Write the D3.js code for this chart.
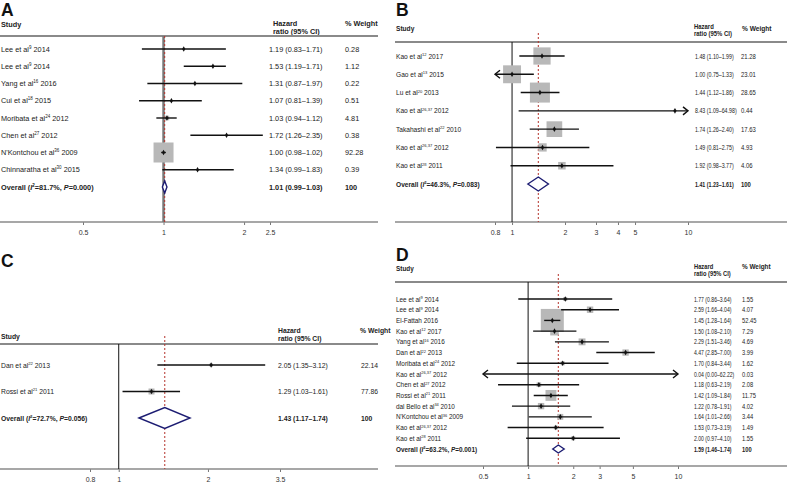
<!DOCTYPE html>
<html>
<head>
<meta charset="utf-8">
<script src="https://cdn.jsdelivr.net/npm/d3@7"></script>
<style>
body { margin: 0; background: #fff; }
text { font-family: "Liberation Sans", Arial, Helvetica, sans-serif; fill: #222; }
</style>
</head>
<body>
<svg id="chart" width="790" height="483"></svg>
<script>

// ---- panel A data
var authorsA = ["Lee et al", "Lee et al", "Yang et al", "Cui et al", "Moribata et al", "Chen et al", "N'Kontchou et al", "Chinnaratha et al"]
var refsA = ["9", "9", "16", "18", "24", "27", "36", "30"]
var yearsA = ["2014", "2014", "2016", "2015", "2012", "2012", "2009", "2015"]
var hrA = [1.19, 1.53, 1.31, 1.07, 1.03, 1.72, 1.00, 1.34]
var loA = [0.83, 1.19, 0.87, 0.81, 0.94, 1.26, 0.98, 0.99]
var hiA = [1.71, 1.71, 1.97, 1.39, 1.12, 2.35, 1.02, 1.83]
var wtA = [0.28, 1.12, 0.22, 0.51, 4.81, 0.38, 92.28, 0.39]
var overallA = [1.01, 0.99, 1.03]
var hetA = ["81.7%", "0.000"]
var ticksA = [0.5, 1, 2, 2.5]

// ---- panel B data
var authorsB = ["Kao et al", "Gao et al", "Lu et al", "Kao et al", "Takahashi et al", "Kao et al", "Kao et al"]
var refsB = ["12", "13", "20", "26,37", "22", "26,37", "28"]
var yearsB = ["2017", "2015", "2013", "2012", "2010", "2012", "2011"]
var hrB = [1.48, 1.00, 1.44, 8.43, 1.74, 1.49, 1.92]
var loB = [1.10, 0.75, 1.12, 1.09, 1.26, 0.81, 0.98]
var hiB = [1.99, 1.33, 1.86, 64.98, 2.40, 2.75, 3.77]
var wtB = [21.28, 23.01, 28.65, 0.44, 17.63, 4.93, 4.06]
var overallB = [1.41, 1.23, 1.61]
var hetB = ["46.3%", "0.083"]
var ticksB = [0.8, 1, 2, 3, 4, 5, 10]

// ---- panel C data
var authorsC = ["Dan et al", "Rossi et al"]
var refsC = ["22", "21"]
var yearsC = ["2013", "2011"]
var hrC = [2.05, 1.29]
var loC = [1.35, 1.03]
var hiC = [3.12, 1.61]
var wtC = [22.14, 77.86]
var overallC = [1.43, 1.17, 1.74]
var hetC = ["72.7%", "0.056"]
var ticksC = [0.8, 1, 2, 3.5]

// ---- panel D data
var authorsD = ["Lee et al", "Lee et al", "El-Fattah", "Kao et al", "Yang et al", "Dan et al", "Moribata et al", "Kao et al", "Chen et al", "Rossi et al", "dal Bello et al", "N'Kontchou et al", "Kao et al", "Kao et al"]
var refsD = ["9", "9", "", "12", "16", "22", "24", "26,37", "27", "21", "34", "36", "26,37", "28"]
var yearsD = ["2014", "2014", "2016", "2017", "2016", "2013", "2012", "2012", "2012", "2011", "2010", "2009", "2012", "2011"]
var hrD = [1.77, 2.59, 1.45, 1.50, 2.29, 4.47, 1.70, 0.04, 1.18, 1.42, 1.22, 1.64, 1.53, 2.00]
var loD = [0.86, 1.66, 1.28, 1.08, 1.51, 2.85, 0.84, 0.00, 0.63, 1.09, 0.78, 1.01, 0.73, 0.97]
var hiD = [3.64, 4.04, 1.64, 2.10, 3.46, 7.00, 3.44, 62.22, 2.19, 1.84, 1.91, 2.66, 3.19, 4.10]
var wtD = [1.55, 4.07, 52.45, 7.29, 4.69, 3.99, 1.62, 0.03, 2.08, 11.75, 4.02, 3.44, 1.49, 1.55]
var overallD = [1.59, 1.46, 1.74]
var hetD = ["63.2%", "0.001"]
var ticksD = [0.5, 1, 2, 3, 5, 10]

var svg = d3.select("#chart")
var f2 = d3.format(".2f")

// text squeezed horizontally by sx (some columns of the original are narrower)
function colText(g, x, y, str, fs, sx, bold){
    return g.append("text")
        .attr("transform", "translate(" + x + "," + y + ") scale(" + sx + ",1)")
        .style("font-size", fs + "px")
        .style("font-weight", bold ? "bold" : "normal")
        .text(str)
}

function drawPanel(p){
    var g = svg.append("g")
    var x = d3.scaleLog().domain(p.domain).range(p.range)
    var n = p.authors.length
    var y = d3.scaleLinear().domain([0, n]).range([p.firstY, p.overallY])
    var wmax = d3.max(p.wt)
    var fs = p.fs, sup = p.fs * 0.62, up = p.fs * 0.38

    // letter
    g.append("text").attr("x", p.left + 1).attr("y", p.letterY)
        .text(p.letter).style("font-size", "17.5px").style("font-weight", "bold").style("fill", "#111")

    // headers
    colText(g, p.left + 1, p.studyY, "Study", fs, 1, true)
    colText(g, p.hrHeadX, p.hazY, "Hazard", fs, p.headSx, true)
    colText(g, p.hrHeadX, p.hazY + p.hazGap, "ratio (95% CI)", fs, p.headSx, true)
    colText(g, p.wtHeadX, p.wtHeadY, "% Weight", fs, 1, true)

    g.append("line").attr("x1", p.left).attr("x2", p.right)
        .attr("y1", p.headY).attr("y2", p.headY)
        .attr("stroke", "#8a8a8a").attr("stroke-width", 2)

    // axis
    var axis = d3.axisBottom(x).tickValues(p.ticks).tickSize(3).tickFormat(d => String(d))
    var ax = g.append("g").attr("transform", "translate(0," + p.axisY + ")").call(axis)
    ax.select(".domain").remove()
    ax.selectAll(".tick line").attr("stroke", "#777")
    ax.selectAll(".tick text").attr("y", 8).style("font-size", "7px")
        .style("font-family", "Liberation Sans, Arial, sans-serif").style("fill", "#333")
    g.append("line").attr("x1", p.left).attr("x2", p.right)
        .attr("y1", p.axisY).attr("y2", p.axisY)
        .attr("stroke", "#8a8a8a").attr("stroke-width", 1.5)

    // null line
    g.append("line").attr("x1", x(1)).attr("x2", x(1))
        .attr("y1", p.headY).attr("y2", p.axisY)
        .attr("stroke", p.nullColor).attr("stroke-width", p.nullWidth)

    // overall dashed line
    g.append("line").attr("x1", x(p.overall[0])).attr("x2", x(p.overall[0]))
        .attr("y1", p.headY - p.dashTop).attr("y2", p.axisY)
        .attr("stroke", "#b5322b").attr("stroke-width", 1).attr("stroke-dasharray", "2,2")

    var dmin = p.domain[0], dmax = p.domain[1]
    var idx = d3.range(n)
    var shown = idx.filter(i => p.hr[i] >= dmin && p.hr[i] <= dmax)
    var side = i => p.boxMax * Math.sqrt(p.wt[i] / wmax)

    // boxes
    g.selectAll(".box").data(shown).enter()
        .append("rect")
        .attr("x", i => x(p.hr[i]) - side(i) / 2)
        .attr("y", i => y(i) - side(i) / 2)
        .attr("width", side)
        .attr("height", side)
        .attr("fill", "#b8b8b8")

    // CI lines
    g.selectAll(".ci").data(idx).enter()
        .append("line")
        .attr("x1", i => x(Math.max(p.lo[i], dmin)))
        .attr("x2", i => x(Math.min(p.hi[i], dmax)))
        .attr("y1", i => y(i)).attr("y2", i => y(i))
        .attr("stroke", "#111").attr("stroke-width", 1.4)

    // arrows where the interval runs off the axis
    idx.forEach(function(i){
        if (p.lo[i] < dmin) {
            var a0 = x(dmin)
            g.append("path").attr("d", "M" + (a0 + 5) + "," + (y(i) - 4) + "L" + a0 + "," + y(i) + "L" + (a0 + 5) + "," + (y(i) + 4))
                .attr("fill", "none").attr("stroke", "#111").attr("stroke-width", 1.4)
        }
        if (p.hi[i] > dmax) {
            var a1 = x(dmax)
            g.append("path").attr("d", "M" + (a1 - 5) + "," + (y(i) - 4) + "L" + a1 + "," + y(i) + "L" + (a1 - 5) + "," + (y(i) + 4))
                .attr("fill", "none").attr("stroke", "#111").attr("stroke-width", 1.4)
        }
    })

    // point estimates
    g.selectAll(".pt").data(shown).enter()
        .append("path")
        .attr("d", d3.symbol().type(d3.symbolDiamond).size(9))
        .attr("transform", i => "translate(" + x(p.hr[i]) + "," + y(i) + ")")
        .attr("fill", "#111")

    // study labels
    var lab = g.selectAll(".lab").data(idx).enter()
        .append("text").attr("x", p.left + 1).attr("y", i => y(i) + 2.5).style("font-size", fs + "px")
    lab.append("tspan").text(i => p.authors[i])
    lab.append("tspan").attr("dy", i => p.refs[i] ? -up : 0).style("font-size", sup + "px").text(i => p.refs[i])
    lab.append("tspan").attr("dy", i => p.refs[i] ? up : 0).text(i => " " + p.years[i])

    idx.forEach(function(i){
        colText(g, p.hrX, y(i) + 2.5, f2(p.hr[i]) + " (" + f2(p.lo[i]) + "\u2013" + f2(p.hi[i]) + ")", fs, p.hrSx, false)
        colText(g, p.wtX, y(i) + 2.5, f2(p.wt[i]), fs, p.wtSx, false)
    })

    // overall
    var yo = y(n), h = p.diaH / 2
    g.append("path")
        .attr("d", "M" + x(p.overall[1]) + "," + yo + "L" + x(p.overall[0]) + "," + (yo - h) +
            "L" + x(p.overall[2]) + "," + yo + "L" + x(p.overall[0]) + "," + (yo + h) + "Z")
        .attr("fill", "#fff").attr("stroke", "#1c1c72").attr("stroke-width", 1.4)

    var ov = g.append("text").attr("x", p.left + 1).attr("y", yo + 2.5)
        .style("font-size", fs + "px").style("font-weight", "bold")
    ov.append("tspan").text("Overall (")
    ov.append("tspan").style("font-style", "italic").text("I")
    ov.append("tspan").attr("dy", -up).style("font-size", sup + "px").text("2")
    ov.append("tspan").attr("dy", up).text("=" + p.het[0] + ", ")
    ov.append("tspan").style("font-style", "italic").text("P")
    ov.append("tspan").text("=" + p.het[1] + ")")

    colText(g, p.hrX, yo + 2.5, f2(p.overall[0]) + " (" + f2(p.overall[1]) + "\u2013" + f2(p.overall[2]) + ")", fs, p.hrSx, true)
    colText(g, p.wtX, yo + 2.5, "100", fs, p.wtSx, true)
}

drawPanel({
    letter: "A", authors: authorsA, refs: refsA, years: yearsA, hr: hrA, lo: loA, hi: hiA, wt: wtA,
    overall: overallA, het: hetA, ticks: ticksA,
    domain: [0.5, 2.5], range: [83, 270], left: 0, right: 378,
    fs: 7.3, hrSx: 1, wtSx: 1, headSx: 1,
    letterY: 16, studyY: 26.5, hazY: 25.5, hazGap: 8.5, wtHeadX: 345, wtHeadY: 25.5, hrHeadX: 273,
    headY: 36, axisY: 222, firstY: 49, overallY: 187, hrX: 269, wtX: 345,
    nullColor: "#777", nullWidth: 2.5, dashTop: 0, boxMax: 20, diaH: 12
})

drawPanel({
    letter: "B", authors: authorsB, refs: refsB, years: yearsB, hr: hrB, lo: loB, hi: hiB, wt: wtB,
    overall: overallB, het: hetB, ticks: ticksB,
    domain: [0.8, 10], range: [495, 688], left: 395, right: 787,
    fs: 6.6, hrSx: 0.8, wtSx: 0.9, headSx: 0.9,
    letterY: 16, studyY: 30.5, hazY: 28.5, hazGap: 7.5, wtHeadX: 742, wtHeadY: 30.5, hrHeadX: 694,
    headY: 42, axisY: 222, firstY: 56, overallY: 184, hrX: 695, wtX: 741,
    nullColor: "#111", nullWidth: 1, dashTop: 9, boxMax: 20, diaH: 14
})

drawPanel({
    letter: "C", authors: authorsC, refs: refsC, years: yearsC, hr: hrC, lo: loC, hi: hiC, wt: wtC,
    overall: overallC, het: hetC, ticks: ticksC,
    domain: [0.8, 3.5], range: [90, 280], left: 0, right: 378,
    fs: 6.8, hrSx: 1, wtSx: 1, headSx: 1,
    letterY: 267, studyY: 338.5, hazY: 333, hazGap: 7.5, wtHeadX: 360, wtHeadY: 332.5, hrHeadX: 278,
    headY: 344, axisY: 469, firstY: 365, overallY: 418, hrX: 278, wtX: 361,
    nullColor: "#111", nullWidth: 1, dashTop: 8, boxMax: 6, diaH: 21
})

drawPanel({
    letter: "D", authors: authorsD, refs: refsD, years: yearsD, hr: hrD, lo: loD, hi: hiD, wt: wtD,
    overall: overallD, het: hetD, ticks: ticksD,
    domain: [0.5, 10], range: [483, 678], left: 395, right: 787,
    fs: 6.4, hrSx: 0.8, wtSx: 0.9, headSx: 0.9,
    letterY: 261, studyY: 270.5, hazY: 268.5, hazGap: 7.5, wtHeadX: 742, wtHeadY: 268.5, hrHeadX: 694,
    headY: 282, axisY: 466, firstY: 299, overallY: 449, hrX: 694, wtX: 742,
    nullColor: "#111", nullWidth: 1, dashTop: 8, boxMax: 23, diaH: 8
})

</script>
</body>
</html>
